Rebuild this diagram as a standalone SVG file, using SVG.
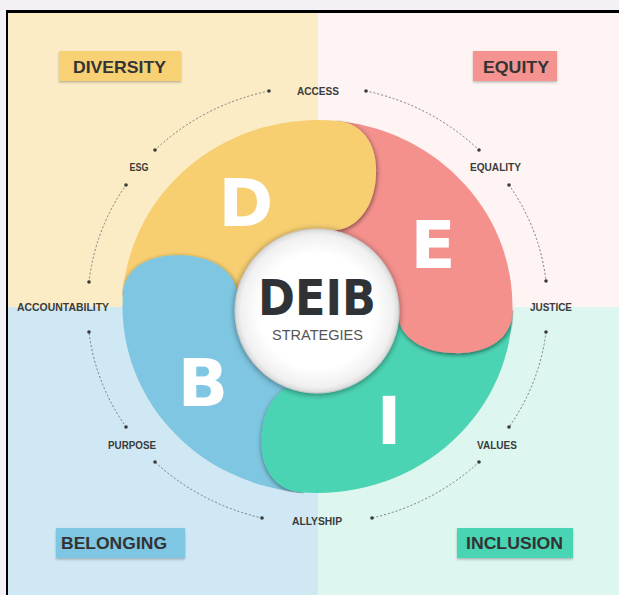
<svg xmlns="http://www.w3.org/2000/svg" width="619" height="595" viewBox="0 0 619 595">
<style>
.lbl{font-family:"Liberation Sans",Arial,sans-serif;font-weight:bold;font-size:10px;fill:#3b3b3b;text-anchor:middle}
.qt{font-family:"Liberation Sans",Arial,sans-serif;font-weight:bold;font-size:17px;fill:#333333;text-anchor:middle}
.big{font-family:"DejaVu Sans",sans-serif;font-weight:bold;font-size:66px;fill:#ffffff;text-anchor:middle}
.dot{fill:#3a3a3a}
.arc{fill:none;stroke:#7a7a7a;stroke-width:1;stroke-dasharray:1.2 2.8;stroke-linecap:round}
</style>
<defs>
<filter id="capShadow" x="-30%" y="-30%" width="160%" height="160%">
<feDropShadow dx="0.5" dy="1.5" stdDeviation="2.4" flood-color="#000" flood-opacity="0.55"/>
</filter>
<filter id="circShadow" x="-20%" y="-20%" width="140%" height="140%">
<feDropShadow dx="0" dy="1" stdDeviation="3" flood-color="#000" flood-opacity="0.45"/>
</filter>
<filter id="boxShadow" x="-10%" y="-20%" width="120%" height="150%">
<feDropShadow dx="0" dy="1.5" stdDeviation="0.8" flood-color="#000" flood-opacity="0.25"/>
</filter>
<radialGradient id="cg" cx="0.5" cy="0.5" r="0.5">
<stop offset="0.7" stop-color="#ffffff"/>
<stop offset="0.93" stop-color="#f0f0f0"/>
<stop offset="1" stop-color="#d9d9d9"/>
</radialGradient>
<clipPath id="disc"><circle cx="0" cy="0" r="196"/></clipPath>
<clipPath id="hpY"><polygon points="1.20,-40.09 23.15,-248.94 125.58,-238.18 103.63,-29.33"/></clipPath>
<clipPath id="hpR"><polygon points="40.08,-1.60 249.95,5.73 246.36,108.67 36.49,101.34"/></clipPath>
<clipPath id="hpG"><polygon points="-0.50,40.11 -18.80,249.31 -121.41,240.33 -103.11,31.13"/></clipPath>
<clipPath id="hpB"><polygon points="-40.11,0.20 -249.60,-14.45 -242.41,-117.20 -32.92,-102.55"/></clipPath>
</defs>

<g id="background">
<rect x="0" y="0" width="619" height="595" fill="#f3f1f5"/>
<rect x="6" y="10" width="613" height="585" fill="#000000"/>
<rect x="8" y="13" width="310" height="294" fill="#fbecc6"/>
<rect x="318" y="13" width="301" height="294" fill="#fef4f4"/>
<rect x="8" y="307" width="310" height="288" fill="#cfe8f4"/>
<rect x="318" y="307" width="301" height="288" fill="#ddf6ef"/>
</g>

<g id="connectors">
<path class="arc" d="M366 91 A230 216 0 0 1 479 150"/>
<path class="arc" d="M509 185 A230 216 0 0 1 546 281"/>
<path class="arc" d="M546 332 A230 216 0 0 1 509 427"/>
<path class="arc" d="M479 462 A230 216 0 0 1 372 518"/>
<path class="arc" d="M262 518 A230 216 0 0 1 155 462"/>
<path class="arc" d="M126 427 A230 216 0 0 1 89 332"/>
<path class="arc" d="M89 282 A230 216 0 0 1 126 185"/>
<path class="arc" d="M155 150 A230 216 0 0 1 269 91"/>
<circle class="dot" cx="269" cy="91" r="1.8"/><circle class="dot" cx="366" cy="91" r="1.8"/>
<circle class="dot" cx="479" cy="150" r="1.8"/><circle class="dot" cx="509" cy="185" r="1.8"/>
<circle class="dot" cx="546" cy="281" r="1.8"/><circle class="dot" cx="546" cy="332" r="1.8"/>
<circle class="dot" cx="509" cy="427" r="1.8"/><circle class="dot" cx="479" cy="462" r="1.8"/>
<circle class="dot" cx="372" cy="518" r="1.8"/><circle class="dot" cx="262" cy="518" r="1.8"/>
<circle class="dot" cx="155" cy="462" r="1.8"/><circle class="dot" cx="126" cy="427" r="1.8"/>
<circle class="dot" cx="89" cy="332" r="1.8"/><circle class="dot" cx="89" cy="282" r="1.8"/>
<circle class="dot" cx="126" cy="185" r="1.8"/><circle class="dot" cx="155" cy="150" r="1.8"/>
</g>

<g id="wheel" transform="translate(317.5 306.5) scale(1 0.956)">
<path d="M0 0 L-194.52 -13.60 A195 195 0 0 1 23.76 -193.55 Z" fill="#f7cf71"/>
<path d="M0 0 L20.38 -193.93 A195 195 0 0 1 194.73 10.21 Z" fill="#f4918d"/>
<path d="M0 0 L194.88 6.81 A195 195 0 0 1 -20.38 193.93 Z" fill="#4bd4b3"/>
<path d="M0 0 L-17.00 194.26 A195 195 0 0 1 -194.26 -17.00 Z" fill="#7ec6e1"/>
<g clip-path="url(#disc)">
<g clip-path="url(#hpY)"><path filter="url(#capShadow)" fill="#f7cf71" d="M12.42 -194.77 L20.38 -193.93 C46.64 -191.17 61.74 -166.46 58.13 -132.15 C54.52 -97.84 34.62 -76.80 8.36 -79.56 L0.40 -80.40 Z"/></g>
<g clip-path="url(#hpR)"><path filter="url(#capShadow)" fill="#f4918d" d="M195.16 -1.19 L194.88 6.81 C193.96 33.19 170.36 49.97 135.88 48.77 C101.40 47.57 79.03 29.17 79.95 2.79 L80.23 -5.21 Z"/></g>
<g clip-path="url(#hpG)"><path filter="url(#capShadow)" fill="#4bd4b3" d="M-9.03 194.96 L-17.00 194.26 C-43.30 191.96 -58.82 167.52 -55.81 133.15 C-52.80 98.78 -33.27 77.40 -6.97 79.70 L1.00 80.40 Z"/></g>
<g clip-path="url(#hpB)"><path filter="url(#capShadow)" fill="#7ec6e1" d="M-195.08 -5.62 L-194.52 -13.60 C-192.68 -39.94 -168.51 -55.89 -134.09 -53.48 C-99.67 -51.07 -77.96 -31.92 -79.80 -5.58 L-80.36 2.40 Z"/></g>
</g>
</g>

<g id="letters">
<text class="big" x="246" y="226">D</text>
<text class="big" x="433" y="268">E</text>
<text class="big" x="389" y="444">I</text>
<text class="big" x="203" y="406">B</text>
</g>

<g id="center">
<circle cx="317" cy="311" r="82" fill="url(#cg)" stroke="#c8c8c8" stroke-width="1" filter="url(#circShadow)"/>
<text x="317" y="315" font-family="'DejaVu Sans',sans-serif" font-weight="bold" font-size="49" fill="#2f3335" text-anchor="middle" textLength="118" lengthAdjust="spacingAndGlyphs">DEIB</text>
<text x="317.5" y="340" font-family="'Liberation Sans',Arial,sans-serif" font-size="14.5" fill="#555555" text-anchor="middle" textLength="91" lengthAdjust="spacingAndGlyphs">STRATEGIES</text>
</g>

<g id="labels">
<text class="lbl" x="318" y="95" textLength="42" lengthAdjust="spacingAndGlyphs">ACCESS</text>
<text class="lbl" x="495.5" y="171" textLength="51" lengthAdjust="spacingAndGlyphs">EQUALITY</text>
<text class="lbl" x="551" y="311" textLength="42" lengthAdjust="spacingAndGlyphs">JUSTICE</text>
<text class="lbl" x="497" y="449" textLength="40" lengthAdjust="spacingAndGlyphs">VALUES</text>
<text class="lbl" x="317" y="525" textLength="50" lengthAdjust="spacingAndGlyphs">ALLYSHIP</text>
<text class="lbl" x="132" y="449" textLength="48" lengthAdjust="spacingAndGlyphs">PURPOSE</text>
<text class="lbl" x="63" y="311" textLength="92" lengthAdjust="spacingAndGlyphs">ACCOUNTABILITY</text>
<text class="lbl" x="139" y="171" textLength="19" lengthAdjust="spacingAndGlyphs">ESG</text>
</g>

<g id="diversity">
<rect x="59" y="51" width="122" height="30" fill="#f7d173" filter="url(#boxShadow)"/>
<text class="qt" x="119.5" y="73" textLength="93" lengthAdjust="spacingAndGlyphs">DIVERSITY</text>
</g>
<g id="equity">
<rect x="473" y="51" width="84" height="30" fill="#f49390" filter="url(#boxShadow)"/>
<text class="qt" x="516" y="73" textLength="66" lengthAdjust="spacingAndGlyphs">EQUITY</text>
</g>
<g id="belonging">
<rect x="56" y="528" width="129" height="30" fill="#7ec6e1" filter="url(#boxShadow)"/>
<text class="qt" x="114" y="549" textLength="106" lengthAdjust="spacingAndGlyphs">BELONGING</text>
</g>
<g id="inclusion">
<rect x="457" y="528" width="116" height="30" fill="#48d4b3" filter="url(#boxShadow)"/>
<text class="qt" x="514.5" y="549" textLength="97" lengthAdjust="spacingAndGlyphs">INCLUSION</text>
</g>
</svg>
